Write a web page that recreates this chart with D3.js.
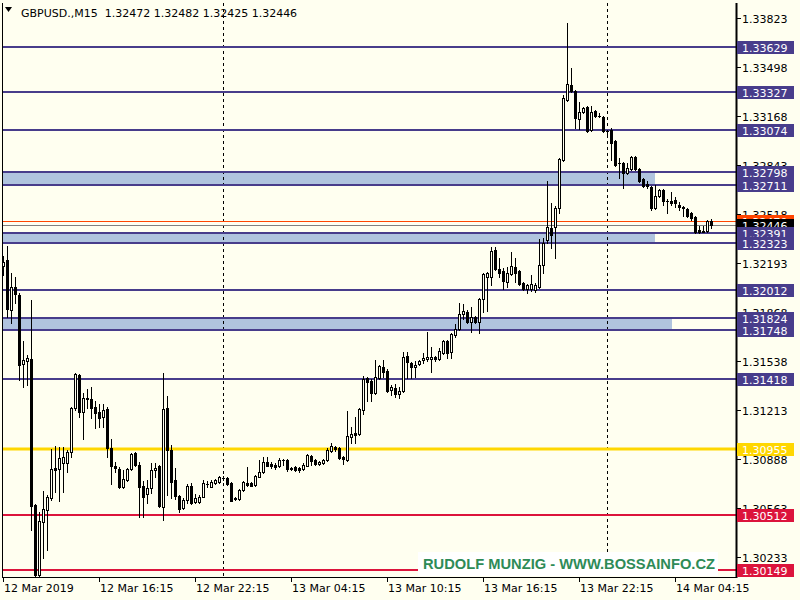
<!DOCTYPE html>
<html><head><meta charset="utf-8">
<script src="https://cdn.jsdelivr.net/npm/d3@7"></script>
<style>html,body{margin:0;padding:0;background:#FFFFF0;} svg{display:block;}</style>
</head><body>
<svg id="c" width="800" height="600"></svg>
<script>
const symbolTitle = "GBPUSD.,M15";
const lastOHLC = [1.32472, 1.32482, 1.32425, 1.32446];

const opens = [1.32172,1.32212,1.31879,1.32032,1.31979,1.31520,1.31540,1.31553,1.30581,1.30116,
1.30468,1.30548,1.30628,1.30828,1.30821,1.30861,1.30861,1.30934,1.31227,1.31446,
1.31200,1.31287,1.31287,1.31234,1.31200,1.31167,1.31220,1.30961,1.30841,1.30821,
1.30701,1.30748,1.30821,1.30927,1.30848,1.30708,1.30655,1.30695,1.30814,1.30841,
1.30568,1.31227,1.30947,1.30748,1.30641,1.30562,1.30615,1.30708,1.30601,1.30601,
1.30635,1.30721,1.30701,1.30728,1.30735,1.30761,1.30761,1.30728,1.30628,1.30621,
1.30681,1.30728,1.30728,1.30715,1.30768,1.30801,1.30868,1.30854,1.30848,1.30841,
1.30881,1.30881,1.30828,1.30834,1.30828,1.30821,1.30841,1.30908,1.30881,1.30854,
1.30861,1.30881,1.30941,1.30967,1.30961,1.30901,1.30881,1.31034,1.31061,1.31054,
1.31214,1.31427,1.31407,1.31327,1.31427,1.31500,1.31473,1.31347,1.31360,1.31320,
1.31340,1.31573,1.31526,1.31500,1.31520,1.31546,1.31553,1.31553,1.31566,1.31553,
1.31593,1.31673,1.31600,1.31713,1.31753,1.31852,1.31866,1.31799,1.31832,1.31799,
1.31952,1.32099,1.32099,1.32278,1.32152,1.32138,1.32065,1.32119,1.32165,1.32138,
1.32059,1.32019,1.32019,1.32012,1.32032,1.32178,1.32345,1.32425,1.32431,1.32558,
1.32877,1.33276,1.33376,1.33336,1.33150,1.33197,1.33230,1.33077,1.33203,1.33170,
1.33163,1.33070,1.33077,1.33003,1.32857,1.32857,1.32791,1.32817,1.32897,1.32817,
1.32750,1.32717,1.32697,1.32558,1.32637,1.32677,1.32604,1.32604,1.32611,1.32578,
1.32564,1.32551,1.32524,1.32498,1.32411,1.32405,1.32405,1.32472];

const highs = [1.32238,1.32305,1.32125,1.32099,1.31992,1.31673,1.31580,1.31946,1.30588,1.30535,
1.30675,1.30648,1.30954,1.30974,1.30967,1.30967,1.30947,1.31234,1.31460,1.31453,
1.31327,1.31353,1.31367,1.31273,1.31253,1.31253,1.31234,1.31021,1.30868,1.30834,
1.30814,1.30828,1.30927,1.30934,1.30868,1.30741,1.30748,1.30861,1.30861,1.30848,
1.31460,1.31307,1.30981,1.30828,1.30648,1.30628,1.30721,1.30728,1.30655,1.30648,
1.30748,1.30741,1.30748,1.30754,1.30774,1.30774,1.30768,1.30735,1.30635,1.30688,
1.30741,1.30834,1.30735,1.30781,1.30881,1.30901,1.30901,1.30868,1.30861,1.30894,
1.30888,1.30888,1.30834,1.30841,1.30834,1.30861,1.30921,1.30914,1.30888,1.30874,
1.30888,1.30961,1.30994,1.30974,1.30967,1.30908,1.31207,1.31100,1.31167,1.31227,
1.31440,1.31433,1.31420,1.31546,1.31513,1.31546,1.31486,1.31380,1.31387,1.31367,
1.31600,1.31600,1.31533,1.31540,1.31546,1.31593,1.31733,1.31633,1.31573,1.31626,
1.31679,1.31679,1.31726,1.31786,1.31926,1.31919,1.31879,1.31899,1.31839,1.31959,
1.32125,1.32132,1.32298,1.32298,1.32225,1.32158,1.32165,1.32265,1.32225,1.32145,
1.32065,1.32052,1.32112,1.32059,1.32351,1.32358,1.32737,1.32591,1.32571,1.32890,
1.33310,1.33789,1.33489,1.33343,1.33263,1.33230,1.33236,1.33236,1.33210,1.33190,
1.33170,1.33077,1.33090,1.33010,1.32890,1.32864,1.32857,1.32904,1.32904,1.32824,
1.32757,1.32737,1.32704,1.32710,1.32684,1.32684,1.32618,1.32664,1.32631,1.32598,
1.32571,1.32558,1.32531,1.32504,1.32438,1.32438,1.32478,1.32482];

const lows = [1.32112,1.31832,1.31792,1.31926,1.31413,1.31367,1.31380,1.30415,1.30102,1.30102,
1.30229,1.30282,1.30615,1.30668,1.30608,1.30668,1.30801,1.30901,1.31214,1.31167,
1.31021,1.31227,1.31160,1.31094,1.31100,1.31100,1.30901,1.30721,1.30801,1.30695,
1.30695,1.30741,1.30814,1.30841,1.30502,1.30502,1.30595,1.30661,1.30768,1.30568,
1.30482,1.30648,1.30628,1.30621,1.30535,1.30555,1.30595,1.30588,1.30595,1.30595,
1.30635,1.30701,1.30701,1.30721,1.30728,1.30748,1.30715,1.30608,1.30615,1.30615,
1.30675,1.30708,1.30708,1.30708,1.30768,1.30794,1.30841,1.30828,1.30821,1.30834,
1.30848,1.30808,1.30814,1.30808,1.30801,1.30814,1.30841,1.30848,1.30848,1.30848,
1.30854,1.30874,1.30934,1.30941,1.30888,1.30854,1.30874,1.30994,1.30994,1.31047,
1.31187,1.31273,1.31273,1.31320,1.31420,1.31433,1.31333,1.31313,1.31300,1.31293,
1.31333,1.31427,1.31427,1.31433,1.31513,1.31526,1.31540,1.31466,1.31540,1.31546,
1.31586,1.31560,1.31560,1.31699,1.31746,1.31819,1.31792,1.31733,1.31792,1.31726,
1.31866,1.31872,1.32045,1.32145,1.32099,1.32019,1.32032,1.32112,1.32065,1.32045,
1.32012,1.31992,1.32005,1.31999,1.32025,1.32125,1.32325,1.32292,1.32225,1.32524,
1.32870,1.33270,1.33330,1.33090,1.33083,1.33190,1.33063,1.33070,1.33163,1.33163,
1.33063,1.33043,1.32877,1.32837,1.32757,1.32691,1.32784,1.32811,1.32811,1.32731,
1.32697,1.32691,1.32544,1.32551,1.32631,1.32578,1.32524,1.32578,1.32564,1.32544,
1.32504,1.32498,1.32478,1.32391,1.32391,1.32398,1.32398,1.32425];

const closes = [1.32198,1.31886,1.32032,1.31985,1.31513,1.31546,1.31560,1.30575,1.30116,1.30475,
1.30555,1.30635,1.30821,1.30814,1.30894,1.30901,1.30934,1.31227,1.31453,1.31200,
1.31293,1.31293,1.31227,1.31194,1.31160,1.31214,1.30961,1.30841,1.30828,1.30701,
1.30754,1.30821,1.30921,1.30848,1.30701,1.30635,1.30695,1.30814,1.30828,1.30575,
1.31220,1.30947,1.30735,1.30641,1.30555,1.30615,1.30708,1.30595,1.30628,1.30635,
1.30728,1.30721,1.30735,1.30748,1.30768,1.30761,1.30721,1.30608,1.30621,1.30681,
1.30735,1.30715,1.30708,1.30774,1.30801,1.30868,1.30841,1.30841,1.30834,1.30881,
1.30881,1.30821,1.30821,1.30814,1.30814,1.30848,1.30914,1.30874,1.30854,1.30868,
1.30881,1.30947,1.30974,1.30954,1.30894,1.30888,1.31041,1.31054,1.31047,1.31220,
1.31420,1.31400,1.31327,1.31433,1.31506,1.31466,1.31340,1.31367,1.31320,1.31340,
1.31566,1.31533,1.31500,1.31513,1.31540,1.31560,1.31566,1.31566,1.31553,1.31606,
1.31673,1.31593,1.31719,1.31753,1.31852,1.31872,1.31799,1.31832,1.31799,1.31952,
1.32119,1.32125,1.32272,1.32152,1.32125,1.32072,1.32125,1.32172,1.32125,1.32052,
1.32019,1.32045,1.32052,1.32045,1.32178,1.32325,1.32431,1.32378,1.32558,1.32884,
1.33289,1.33383,1.33336,1.33157,1.33197,1.33223,1.33070,1.33197,1.33170,1.33170,
1.33070,1.33070,1.32990,1.32844,1.32857,1.32791,1.32824,1.32897,1.32817,1.32737,
1.32704,1.32704,1.32558,1.32637,1.32677,1.32604,1.32604,1.32591,1.32591,1.32564,
1.32558,1.32504,1.32491,1.32398,1.32398,1.32398,1.32471,1.32446];

const timeTickIndex = [0, 24, 48, 72, 96, 120, 144, 168];
const timeTickLabels = ["12 Mar 2019", "12 Mar 16:15", "12 Mar 22:15", "13 Mar 04:15", "13 Mar 10:15", "13 Mar 16:15", "13 Mar 22:15", "14 Mar 04:15"];
const daySeparatorIndex = [55, 151];

const priceTicks = [1.33823, 1.33498, 1.33168, 1.32843, 1.32518, 1.32193, 1.31868, 1.31538, 1.31213, 1.30888, 1.30563, 1.30233];

const levelPrices = [1.33629, 1.33327, 1.33074, 1.32798, 1.32711, 1.32391, 1.32323, 1.32012, 1.31824, 1.31748, 1.31418, 1.30955, 1.30512, 1.30149];
const levelKinds  = ["blue","blue","blue","blue","blue","blue","blue","blue","blue","blue","blue","gold","red","red"];

const zoneTop = [1.32798, 1.32391, 1.31824];
const zoneBottom = [1.32711, 1.32323, 1.31748];
const zoneEndIndex = [163, 163, 167];

const bidPrice = 1.32446;
const askPrice = 1.32470;
const watermark = "RUDOLF MUNZIG - WWW.BOSSAINFO.CZ";

// ---------- drawing ----------
const W = 800, H = 600;
const L = 3, R = 736, T = 3, B = 577;
const bg = "#FFFFF0";
const colors = {blue: "#483D8B", gold: "#FFD700", red: "#DC143C"};
const font = "'DejaVu Sans', Verdana, sans-serif";

const svg = d3.select("#c");
svg.append("rect").attr("width", W).attr("height", H).attr("fill", bg);

const n = opens.length;
const x = d3.scaleLinear().domain([0, n - 1]).range([3.5, 3.5 + 4 * (n - 1)]);
const y = d3.scaleLinear().domain([1.30102, 1.33922]).range([B, T]);
const py = v => Math.round(y(v));

const plot = svg.append("g");
plot.append("clipPath").attr("id", "clip").append("rect")
  .attr("x", L).attr("y", T).attr("width", R - L).attr("height", B - T);
const pg = plot.append("g").attr("clip-path", "url(#clip)");

// zones
zoneTop.forEach((t, k) => {
  pg.append("rect").attr("x", L).attr("y", py(t))
    .attr("width", Math.round(x(zoneEndIndex[k])) - L)
    .attr("height", py(zoneBottom[k]) - py(t))
    .attr("fill", "#B0C4DE");
});

// day separators
daySeparatorIndex.forEach(i => {
  pg.append("line").attr("x1", x(i)).attr("x2", x(i)).attr("y1", T).attr("y2", B)
    .attr("stroke", "#000").attr("stroke-width", 1).attr("stroke-dasharray", "3,3");
});

// level lines
levelPrices.forEach((p, k) => {
  pg.append("line").attr("x1", L).attr("x2", R).attr("y1", py(p)).attr("y2", py(p))
    .attr("stroke", colors[levelKinds[k]])
    .attr("stroke-width", levelKinds[k] === "gold" ? 3 : 2);
});

// bid / ask lines
pg.append("line").attr("x1", L).attr("x2", R).attr("y1", py(askPrice) + 0.5).attr("y2", py(askPrice) + 0.5)
  .attr("stroke", "#FF4500").attr("stroke-width", 1);
pg.append("line").attr("x1", L).attr("x2", R).attr("y1", py(bidPrice) + 0.5).attr("y2", py(bidPrice) + 0.5)
  .attr("stroke", "#808080").attr("stroke-width", 1);

// candles
const cg = pg.append("g");
for (let i = 0; i < n; i++) {
  const cx = x(i);
  const o = py(opens[i]), c = py(closes[i]), h = py(highs[i]), l = py(lows[i]);
  cg.append("line").attr("x1", cx).attr("x2", cx).attr("y1", h).attr("y2", l + 1)
    .attr("stroke", "#000").attr("stroke-width", 1);
  const top = Math.min(o, c), bot = Math.max(o, c);
  if (bot - top < 1) {
    cg.append("line").attr("x1", cx - 1.5).attr("x2", cx + 1.5).attr("y1", top + 0.5).attr("y2", top + 0.5)
      .attr("stroke", "#000").attr("stroke-width", 1);
  } else {
    cg.append("rect").attr("x", cx - 1).attr("y", top + 0.5).attr("width", 2).attr("height", bot - top)
      .attr("fill", closes[i] > opens[i] ? bg : "#000").attr("stroke", "#000").attr("stroke-width", 1);
  }
}

// watermark
const wm = svg.append("g");
wm.append("rect").attr("x", 418).attr("y", 552).attr("width", 300).attr("height", 24).attr("fill", "#FFFFFF");
wm.append("text").attr("x", 423).attr("y", 568.5).text(watermark)
  .attr("font-family", "'Liberation Sans', Arial, sans-serif").attr("font-weight", "bold")
  .attr("font-size", 15).attr("fill", "#2E8B57").attr("textLength", 292).attr("lengthAdjust", "spacingAndGlyphs");

// frame
svg.append("line").attr("x1", L - 0.5).attr("x2", L - 0.5).attr("y1", T).attr("y2", B + 1).attr("stroke", "#000");
svg.append("line").attr("x1", L - 1).attr("x2", R + 1).attr("y1", B + 0.5).attr("y2", B + 0.5).attr("stroke", "#000");
svg.append("line").attr("x1", R + 0.5).attr("x2", R + 0.5).attr("y1", T).attr("y2", B + 1).attr("stroke", "#000").attr("stroke-width", 2);

// title
svg.append("path").attr("d", "M5,7 L12,7 L8.5,12 Z").attr("fill", "#000");
svg.append("text").attr("x", 21).attr("y", 17).attr("font-family", font).attr("font-size", 11).attr("fill", "#000")
  .attr("xml:space", "preserve")
  .text(symbolTitle + "  " + lastOHLC.map(v => v.toFixed(5)).join(" "));

// time axis
const ax = svg.append("g");
timeTickIndex.forEach((i, k) => {
  const tx = Math.floor(x(i)) + 0.5;
  ax.append("line").attr("x1", tx).attr("x2", tx).attr("y1", B).attr("y2", B + 5).attr("stroke", "#000");
  ax.append("text").attr("x", tx + 0.5).attr("y", 592).attr("font-family", font).attr("font-size", 11)
    .attr("fill", "#000").text(timeTickLabels[k]);
});

// price axis ticks
const pa = svg.append("g");
priceTicks.forEach(p => {
  const ty = py(p) + 0.5;
  pa.append("line").attr("x1", R).attr("x2", R + 5).attr("y1", ty).attr("y2", ty).attr("stroke", "#000");
  pa.append("text").attr("x", 742).attr("y", ty + 4).attr("font-family", font).attr("font-size", 11)
    .attr("fill", "#000").text(p.toFixed(5));
});

function priceLabel(p, fill) {
  const ty = py(p);
  pa.append("rect").attr("x", 737).attr("y", ty - 6).attr("width", 57).attr("height", 13).attr("fill", fill);
  pa.append("text").attr("x", 742).attr("y", ty + 4.5).attr("font-family", font).attr("font-size", 11)
    .attr("fill", "#FFFFFF").text(p.toFixed(5));
}
priceLabel(askPrice, "#FF4500");
priceLabel(bidPrice, "#000000");
levelPrices.forEach((p, k) => priceLabel(p, colors[levelKinds[k]]));
</script>
</body></html>
